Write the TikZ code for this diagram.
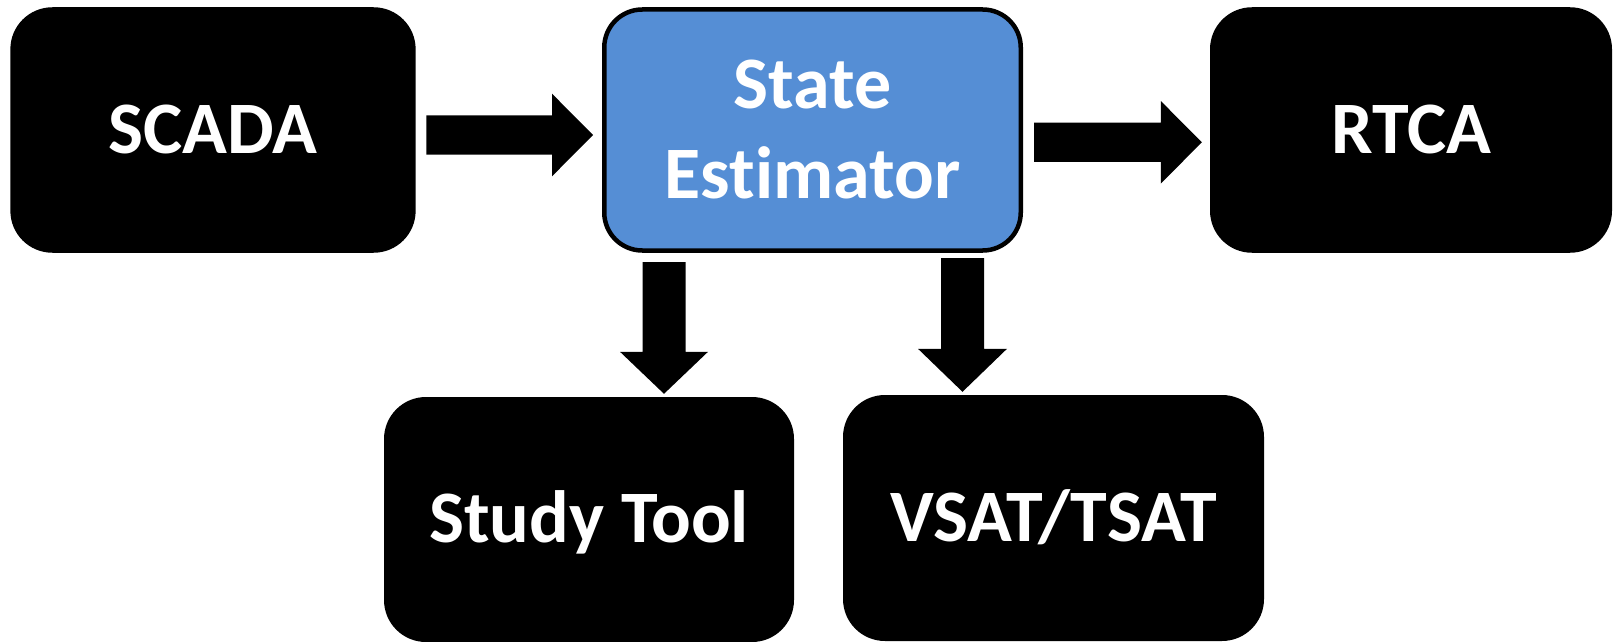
\documentclass[tikz,border=0pt]{standalone}
\usepackage{fontspec}
\setmainfont{Carlito}[Ligatures=NoCommon]
\usetikzlibrary{calc}
\definecolor{seblue}{RGB}{85,142,213}
\begin{document}
\begin{tikzpicture}[x=1pt,y=1pt,
  blk/.style={fill=black, draw=none, rounded corners=42pt, inner sep=0pt,
    text=white, font=\bfseries\fontsize{74}{90}\selectfont,
    text height=46.8pt, text depth=0pt, align=center},
  fat/.style={fill=black}]
\useasboundingbox (0,0) rectangle (1617,-642);

% blocks
\node[blk, minimum width=405.3pt, minimum height=245.5pt] (scada) at (213,-130) {SCADA};
\node[blk, fill=seblue, draw=black, line width=4.5pt, rounded corners=38pt,
      minimum width=416.5pt, minimum height=241pt, text height=136.8pt]
      (se) at (812.5,-130) {State\\Estimator};
\node[blk, minimum width=402pt, minimum height=245.5pt] (rtca) at (1411,-130) {RTCA};
\node[blk, minimum width=410pt, minimum height=245pt] (study) at (589,-519.5) {Study Tool};
\node[blk, minimum width=421pt, minimum height=246pt] (vsat) at (1053.5,-518) {VSAT/TSAT};

% block arrows
\fill[fat] let \p1=([xshift=10.4pt,yshift=-5pt]scada.east), \p2=([xshift=-9pt,yshift=-5pt]se.west) in
  (\x1,\y1+19.6pt) -- (\x2-41pt,\y1+19.6pt) -- (\x2-41pt,\y1+41.3pt) -- (\x2,\y1)
  -- (\x2-41pt,\y1-41.3pt) -- (\x2-41pt,\y1-19.6pt) -- (\x1,\y1-19.6pt) -- cycle;
\fill[fat] let \p1=([xshift=11pt,yshift=-12.3pt]se.east), \p2=([xshift=-8pt,yshift=-12.3pt]rtca.west) in
  (\x1,\y1+19.6pt) -- (\x2-41pt,\y1+19.6pt) -- (\x2-41pt,\y1+41.3pt) -- (\x2,\y1)
  -- (\x2-41pt,\y1-41.3pt) -- (\x2-41pt,\y1-19.6pt) -- (\x1,\y1-19.6pt) -- cycle;
\fill[fat] let \p1=([xshift=-148.5pt,yshift=-9.3pt]se.south), \p2=([yshift=3pt]study.north) in
  (\x1-21.5pt,\y1) -- (\x1-21.5pt,\y2+42pt) -- (\x1-44pt,\y2+42pt) -- (\x1,\y2)
  -- (\x1+44pt,\y2+42pt) -- (\x1+21.5pt,\y2+42pt) -- (\x1+21.5pt,\y1) -- cycle;
\fill[fat] let \p1=([xshift=150pt,yshift=-5.3pt]se.south), \p2=([yshift=3pt]vsat.north) in
  (\x1-21.5pt,\y1) -- (\x1-21.5pt,\y2+43pt) -- (\x1-44.5pt,\y2+43pt) -- (\x1,\y2)
  -- (\x1+44.5pt,\y2+43pt) -- (\x1+21.5pt,\y2+43pt) -- (\x1+21.5pt,\y1) -- cycle;
\end{tikzpicture}
\end{document}
